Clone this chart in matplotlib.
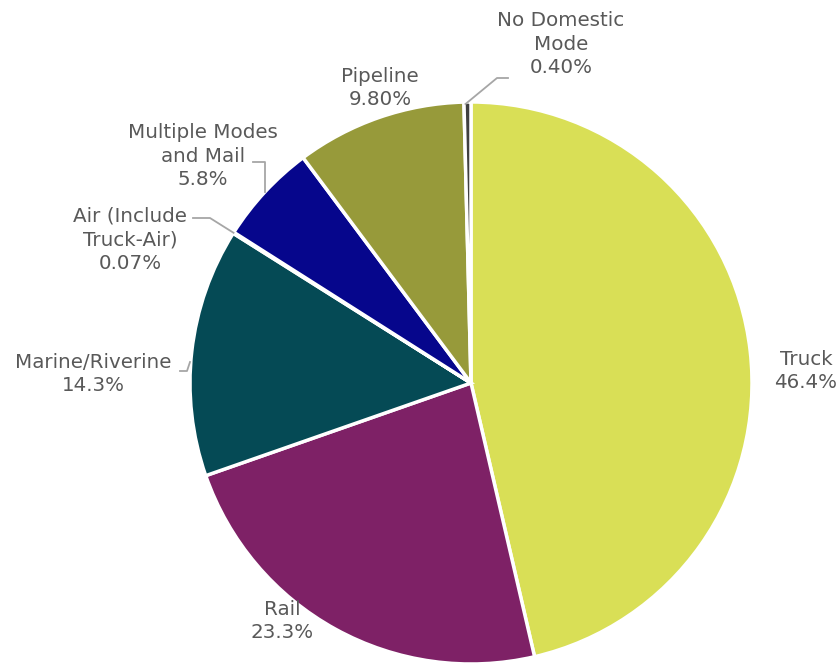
import matplotlib.pyplot as plt
import numpy as np

# Domestic mode shares
modes = ["Truck", "Rail", "Marine/Riverine", "Air (Include\nTruck-Air)",
         "Multiple Modes\nand Mail", "Pipeline", "No Domestic\nMode"]
shares = [46.4, 23.3, 14.3, 0.07, 5.8, 9.8, 0.4]
pct_labels = ["46.4%", "23.3%", "14.3%", "0.07%", "5.8%", "9.80%", "0.40%"]
colors = ["#D9DF56", "#7E2166", "#054A55", "#4A7FA0", "#06068C", "#979A3A", "#404040"]

W, H = 838, 663
fig = plt.figure(figsize=(W / 100, H / 100), dpi=100)
ax = fig.add_axes([0, 0, 1, 1])

cx, cy, r = 471, H - 383, 281
wedges, _ = ax.pie(shares, colors=colors, startangle=90, counterclock=False,
                   center=(cx, cy), radius=r, frame=True,
                   wedgeprops=dict(edgecolor="white", linewidth=2.5))
ax.set_xlim(0, W)
ax.set_ylim(0, H)
ax.axis("off")

txt = dict(color="#595959", fontsize=14.3, ha="center", va="center",
           linespacing=1.3, family="DejaVu Sans")
line_kw = dict(color="#A6A6A6", linewidth=1.3)

# label positions in pixel coords (x, y from top)
label_pos = [(806, 371), (282, 621), (93, 374), (130, 240),
             (203, 156), (380, 88), (561, 44)]
for name, pct, (lx, ly) in zip(modes, pct_labels, label_pos):
    ax.text(lx, H - ly, name + "\n" + pct, **txt)

# leader lines
def edge_point(i):
    w = wedges[i]
    ang = np.deg2rad((w.theta1 + w.theta2) / 2)
    return cx + r * np.cos(ang), cy + r * np.sin(ang)

ex, ey = edge_point(6)
ax.plot([ex - 2, 497, 508], [ey - 2, H - 78, H - 78], **line_kw)
ax.plot([253, 265, 265], [H - 162, H - 162, H - 192], **line_kw)
ex, ey = edge_point(3)
ax.plot([193, 210, ex], [H - 218, H - 218, ey], **line_kw)
ax.plot([180, 187, 190], [H - 371, H - 371, H - 362], **line_kw)

fig.savefig("out.png", dpi=100)
